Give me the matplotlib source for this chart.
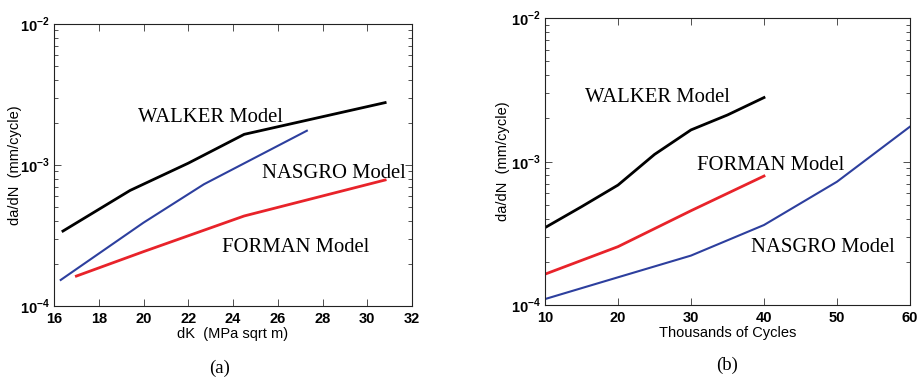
import numpy as np
import matplotlib
matplotlib.use('Agg')
import matplotlib.pyplot as plt

plt.rcParams['mathtext.fontset'] = 'custom'
plt.rcParams['mathtext.rm'] = 'Liberation Sans:bold'
plt.rcParams['mathtext.bf'] = 'Liberation Sans:bold'

# (a) growth rate vs stress intensity range
dk_walker = [16.4, 19.4, 22.0, 24.5, 30.8]
rate_walker = [3.4e-4, 6.6e-4, 1.03e-3, 1.65e-3, 2.77e-3]
dk_nasgro = [16.3, 20.0, 22.7, 27.3]
rate_nasgro = [1.53e-4, 3.9e-4, 7.3e-4, 1.75e-3]
dk_forman = [17.0, 20.0, 24.5, 30.8]
rate_forman = [1.63e-4, 2.43e-4, 4.35e-4, 7.83e-4]

# (b) growth rate vs cycles (thousands)
cyc_walker = [10, 15, 20, 25, 30, 35, 40]
rate_walker_b = [3.46e-4, 4.84e-4, 6.85e-4, 1.12e-3, 1.66e-3, 2.11e-3, 2.79e-3]
cyc_forman = [10, 20, 30, 40]
rate_forman_b = [1.64e-4, 2.55e-4, 4.54e-4, 7.92e-4]
cyc_nasgro = [10, 20, 30, 40, 50, 60]
rate_nasgro_b = [1.1e-4, 1.56e-4, 2.21e-4, 3.61e-4, 7.23e-4, 1.75e-3]

xticks_a = [16, 18, 20, 22, 24, 26, 28, 30, 32]
xticks_b = [10, 20, 30, 40, 50, 60]
yticks = [1e-4, 1e-3, 1e-2]
ytick_labels = [r'$10^{-4}$', r'$10^{-3}$', r'$10^{-2}$']

RED = '#e8232a'
BLUE = '#2d3f9e'
serif = 'Liberation Serif'
sans = 'Liberation Sans'

fig = plt.figure(figsize=(9.17, 3.78), dpi=100)
ax1 = fig.add_axes([54/917, 72/378, 358/917, 282/378])
ax2 = fig.add_axes([545/917, 73/378, 365/917, 287/378])


def style(ax, xticks, xlim, ylab_x):
    ax.set_yscale('log')
    ax.set_ylim(1e-4, 1e-2)
    ax.set_xlim(*xlim)
    ax.set_xticks(xticks)
    ax.set_xticklabels([str(t) for t in xticks], fontfamily=sans,
                       fontweight='bold', fontsize=10.5)
    ax.set_yticks(yticks)
    ax.set_yticklabels(ytick_labels, fontsize=10.5)
    ax.tick_params(which='both', direction='in', top=True, right=True,
                   width=0.6, colors='#333333', labelcolor='black')
    ax.tick_params(which='major', length=5)
    ax.tick_params(axis='x', which='major', pad=4)
    ax.tick_params(axis='y', which='major', pad=3)
    ax.tick_params(which='minor', length=3)
    ax.minorticks_on()
    ax.xaxis.set_minor_locator(matplotlib.ticker.NullLocator())
    for s in ax.spines.values():
        s.set_linewidth(0.8)
        s.set_color('#222222')
    ax.set_ylabel('da/dN  (mm/cycle)', fontfamily=sans, fontsize=10.5)
    ax.yaxis.set_label_coords(ylab_x, 0.5)


ax1.plot(dk_walker, rate_walker, color='black', lw=2.0)
ax1.plot(dk_nasgro, rate_nasgro, color=BLUE, lw=1.5)
ax1.plot(dk_forman, rate_forman, color=RED, lw=2.0)
style(ax1, xticks_a, (16, 32), -0.09)
ax1.set_xlabel('dK  (MPa sqrt m)', fontfamily=sans, fontsize=10.5, labelpad=1)
ax1.text(138/917, 1 - 117/378, 'WALKER Model', transform=fig.transFigure,
         fontfamily=serif, fontsize=14.9, va='center')
ax1.text(262/917, 1 - 174/378, 'NASGRO Model', transform=fig.transFigure,
         fontfamily=serif, fontsize=14.9, va='center')
ax1.text(222/917, 1 - 247/378, 'FORMAN Model', transform=fig.transFigure,
         fontfamily=serif, fontsize=14.9, va='center')

ax2.plot(cyc_walker, rate_walker_b, color='black', lw=2.0)
ax2.plot(cyc_forman, rate_forman_b, color=RED, lw=2.0)
ax2.plot(cyc_nasgro, rate_nasgro_b, color=BLUE, lw=1.5)
style(ax2, xticks_b, (10, 60), -0.095)
ax2.set_xlabel('Thousands of Cycles', fontfamily=sans, fontsize=10.5, labelpad=1)
ax2.text(585/917, 1 - 97/378, 'WALKER Model', transform=fig.transFigure,
         fontfamily=serif, fontsize=14.9, va='center')
ax2.text(697/917, 1 - 165/378, 'FORMAN Model', transform=fig.transFigure,
         fontfamily=serif, fontsize=14.9, va='center')
ax2.text(751/917, 1 - 248/378, 'NASGRO Model', transform=fig.transFigure,
         fontfamily=serif, fontsize=14.9, va='center')

fig.text(220/917, 1 - 368/378, '(a)', fontfamily=serif, fontsize=13.5,
         ha='center', va='center')
fig.text(727/917, 1 - 365/378, '(b)', fontfamily=serif, fontsize=13.5,
         ha='center', va='center')

fig.savefig('out.png', dpi=100)
